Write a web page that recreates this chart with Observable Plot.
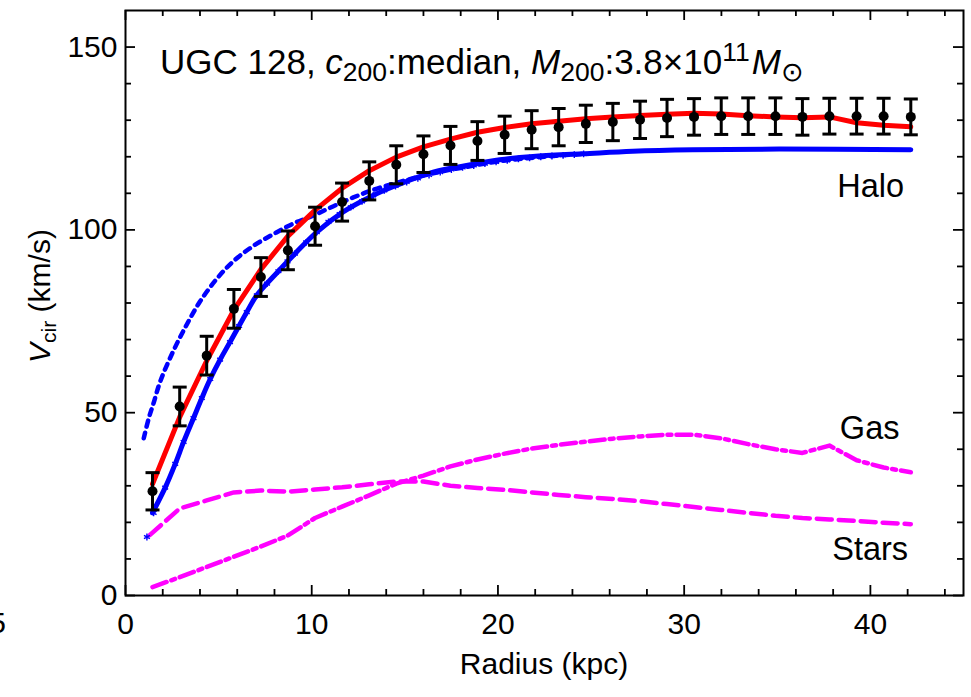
<!DOCTYPE html>
<html>
<head>
<meta charset="utf-8">
<script src="https://cdn.jsdelivr.net/npm/d3@7"></script>
<script src="https://cdn.jsdelivr.net/npm/@observablehq/plot@0.6"></script>
<style>
  html, body { margin: 0; padding: 0; background: #fff; }
  svg { display: block; }
</style>
</head>
<body>
<div id="chart"></div>
<script>
// ---- Data ----
const radius = [1.45, 2.91, 4.36, 5.82, 7.27, 8.72, 10.18, 11.63, 13.09, 14.54, 16.0, 17.45, 18.9, 20.36, 21.81, 23.26, 24.72, 26.17, 27.63, 29.08, 30.53, 31.99, 33.44, 34.9, 36.35, 37.8, 39.26, 40.71, 42.17];
const vObs = [28.5, 51.7, 65.6, 78.4, 87.1, 94.4, 101.0, 107.6, 113.4, 117.8, 120.7, 123.1, 124.3, 126.0, 127.4, 128.1, 129.0, 129.5, 130.1, 130.6, 130.9, 131.1, 131.1, 131.1, 130.9, 131.1, 131.1, 131.1, 130.9];
const vErr = [5.1, 5.3, 5.3, 5.3, 5.3, 5.3, 5.2, 5.2, 5.2, 5.2, 5.0, 5.2, 5.3, 5.1, 5.2, 5.1, 5.1, 5.1, 5.1, 5.1, 5.0, 5.0, 5.0, 5.0, 5.0, 4.9, 4.9, 4.9, 4.9];
const vTotal = [30.5, 48.8, 64.2, 78.1, 89.2, 98.3, 105.4, 111.4, 116.2, 119.9, 122.7, 124.8, 126.7, 128.0, 129.0, 129.7, 130.4, 130.9, 131.3, 131.6, 131.9, 131.7, 131.2, 130.9, 130.7, 130.9, 129.3, 128.6, 128.2];
const vGas = [2.3, 5.0, 7.8, 10.6, 13.4, 16.4, 21.2, 24.3, 27.4, 30.6, 32.8, 35.3, 37.2, 38.8, 40.2, 41.2, 42.1, 42.9, 43.5, 44.0, 44.0, 43.0, 41.4, 40.0, 39.0, 41.0, 37.0, 35.0, 33.7];
const starsR = [1.3, 2.91, 4.36, 5.82, 7.27, 8.72, 10.18, 11.63, 13.09, 14.54, 16.0, 17.45, 18.9, 20.36, 21.81, 23.26, 24.72, 26.17, 27.63, 29.08, 30.53, 31.99, 33.44, 34.9, 36.35, 37.8, 39.26, 40.71, 42.17];
const vStars = [16.5, 23.8, 26.0, 28.2, 28.7, 28.4, 29.0, 29.6, 30.4, 31.2, 31.2, 30.0, 29.4, 28.9, 28.2, 27.5, 26.9, 26.4, 25.8, 25.0, 24.2, 23.4, 22.6, 21.8, 21.2, 20.8, 20.4, 19.9, 19.5];
// Halo fit (solid blue)
const haloR = [1.45, 2.13, 2.67, 3.12, 3.65, 4.1, 4.55, 5.08, 5.61, 6.51, 7.05, 8.21, 9.1, 10.27, 11.69, 13.13, 14.56, 16.52, 18.31, 20.1, 21.88, 24.56, 27.24, 30.46, 35.1, 42.17];
const vHalo = [22.6, 29.5, 36.0, 42.0, 48.5, 54.0, 59.2, 64.5, 69.3, 77.5, 82.1, 88.7, 93.5, 99.4, 104.9, 109.0, 112.2, 115.8, 117.6, 119.2, 120.1, 120.8, 121.5, 121.9, 122.1, 121.9];
// Halo (dashed blue)
const dashR = [0.98, 1.25, 1.5, 1.87, 2.58, 3.3, 4.0, 4.9, 5.79, 6.86, 7.93, 9.0, 10.07, 11.14, 12.2, 13.28, 14.5, 15.8, 17.0, 18.5, 20.0, 22.0, 24.6];
const vDash = [43.0, 48.5, 52.5, 58.6, 67.0, 74.2, 80.4, 86.6, 91.4, 95.6, 98.8, 101.7, 103.9, 106.4, 108.8, 110.9, 112.8, 114.6, 116.0, 117.4, 118.7, 119.8, 120.8];
// Halo (blue asterisks)
const astR = [1.15, 1.51, 2.13, 2.67, 3.12, 3.65, 4.1, 4.55, 5.08, 5.61, 6.1, 6.51, 7.05, 7.6, 8.21, 8.7, 9.1, 9.7, 10.27, 10.9, 11.5, 12.1, 12.7, 13.3, 13.9, 14.5, 15.1, 15.7, 16.3, 16.9, 17.5, 18.1, 18.7, 19.3, 19.9, 20.5, 21.1, 21.7, 22.3, 22.9, 23.5, 24.1, 24.6];
const vAst = [16.0, 22.6, 29.5, 36.0, 42.0, 48.5, 54.0, 59.2, 64.5, 69.3, 73.7, 77.5, 82.1, 85.3, 88.7, 91.4, 93.5, 96.6, 99.4, 102.2, 104.3, 106.2, 107.8, 109.4, 110.8, 112.0, 113.1, 114.1, 115.0, 115.8, 116.5, 117.1, 117.6, 118.1, 118.6, 119.0, 119.4, 119.7, 120.0, 120.2, 120.4, 120.6, 120.8];

const xMajor = [0, 10, 20, 30, 40];
const xMinor = [2, 4, 6, 8, 12, 14, 16, 18, 22, 24, 26, 28, 32, 34, 36, 38, 42, 44];
const yMajor = [0, 50, 100, 150];
const yMinor = [10, 20, 30, 40, 60, 70, 80, 90, 110, 120, 130, 140];

const curveLabels = ["Halo", "Gas", "Stars"];
const labelR = [38.22, 38.36, 37.95];
const labelV = [111.9, 45.7, 12.6];

// ---- Tables built from the arrays ----
const obs = radius.map((r, i) => ({r, v: vObs[i], lo: vObs[i] - vErr[i], hi: vObs[i] + vErr[i]}));
const total = radius.map((r, i) => ({r, v: vTotal[i]}));
const gas = radius.map((r, i) => ({r, v: vGas[i]}));
const stars = starsR.map((r, i) => ({r, v: vStars[i]}));
const halo = haloR.map((r, i) => ({r, v: vHalo[i]}));
const haloDash = dashR.map((r, i) => ({r, v: vDash[i]}));
const ast = astR.map((r, i) => ({r, v: vAst[i]}));
const labels = curveLabels.map((t, i) => ({t, r: labelR[i], v: labelV[i]}));

const FH = 585, FW = 838; // frame size in px
const capSymbol = {draw(ctx) { ctx.moveTo(-7, 0); ctx.lineTo(7, 0); }};
const font = "'Liberation Sans', Arial, Helvetica, sans-serif";

const chart = Plot.plot({
  width: 971,
  height: 697,
  marginLeft: 125,
  marginRight: 8,
  marginTop: 10,
  marginBottom: 102,
  x: {domain: [0, 45]},
  y: {domain: [0, 160]},
  style: {fontFamily: font, fontSize: "30px", color: "black", background: "white", overflow: "visible"},
  marks: [
    // curves
    Plot.line(stars, {x: "r", y: "v", stroke: "#ff00ff", strokeWidth: 4.5, strokeDasharray: "15,7"}),
    Plot.line(gas, {x: "r", y: "v", stroke: "#ff00ff", strokeWidth: 4.5, strokeDasharray: "15,5,4,5"}),
    Plot.line(haloDash, {x: "r", y: "v", stroke: "#0000ff", strokeWidth: 4.5, strokeDasharray: "6,6", curve: "catmull-rom"}),
    Plot.dot(ast, {x: "r", y: "v", symbol: "asterisk", r: 3.2, stroke: "#0000ff", strokeWidth: 1.4}),
    Plot.line(halo, {x: "r", y: "v", stroke: "#0000ff", strokeWidth: 5, curve: "catmull-rom"}),
    Plot.line(total, {x: "r", y: "v", stroke: "#ff0000", strokeWidth: 5}),
    // error bars + points
    Plot.ruleX(obs, {x: "r", y1: "lo", y2: "hi", stroke: "black", strokeWidth: 3}),
    Plot.dot(obs, {x: "r", y: "hi", symbol: capSymbol, r: 6, fill: "none", stroke: "black", strokeWidth: 3}),
    Plot.dot(obs, {x: "r", y: "lo", symbol: capSymbol, r: 6, fill: "none", stroke: "black", strokeWidth: 3}),
    Plot.dot(obs, {x: "r", y: "v", r: 5, fill: "black"}),
    // curve labels
    Plot.text(labels, {x: "r", y: "v", text: "t", textAnchor: "start", fontSize: 32.5, fill: "black"}),
    // frame & inward ticks
    Plot.frame({stroke: "black", strokeWidth: 2}),
    Plot.tickX(xMajor, {x: d => d, insetTop: FH - 10, stroke: "black", strokeWidth: 1.8}),
    Plot.tickX(xMinor, {x: d => d, insetTop: FH - 6, stroke: "black", strokeWidth: 1.8}),
    Plot.tickX(xMajor, {x: d => d, insetBottom: FH - 10, stroke: "black", strokeWidth: 1.8}),
    Plot.tickX(xMinor, {x: d => d, insetBottom: FH - 6, stroke: "black", strokeWidth: 1.8}),
    Plot.tickY(yMajor, {y: d => d, insetRight: FW - 10, stroke: "black", strokeWidth: 1.8}),
    Plot.tickY(yMinor, {y: d => d, insetRight: FW - 6, stroke: "black", strokeWidth: 1.8}),
    Plot.tickY(yMajor, {y: d => d, insetLeft: FW - 10, stroke: "black", strokeWidth: 1.8}),
    Plot.tickY(yMinor, {y: d => d, insetLeft: FW - 6, stroke: "black", strokeWidth: 1.8}),
    // tick labels
    Plot.axisX(xMajor, {anchor: "bottom", tickSize: 0, tickPadding: 17, fontSize: 30, label: null}),
    Plot.axisY(yMajor, {anchor: "left", tickSize: 0, tickPadding: 8, fontSize: 30, label: null})
  ]
});

document.getElementById("chart").appendChild(chart);

// ---- Rich text (title, axis titles) ----
const svg = d3.select(chart);
const sub = 26.5;

const title = svg.append("text")
  .attr("x", 160).attr("y", 74).attr("text-anchor", "start")
  .attr("font-family", font).attr("font-size", 35).attr("fill", "black");
title.append("tspan").text("UGC 128, ");
title.append("tspan").attr("font-style", "italic").text("c");
title.append("tspan").attr("font-size", sub).attr("dy", 7).text("200");
title.append("tspan").attr("dy", -7).text(":median, ");
title.append("tspan").attr("font-style", "italic").text("M");
title.append("tspan").attr("font-size", sub).attr("dy", 7).text("200");
title.append("tspan").attr("dy", -7).text(":3.8×10");
title.append("tspan").attr("font-size", sub).attr("dy", -13).text("11");
title.append("tspan").attr("dy", 13).attr("dx", 2).attr("font-style", "italic").text("M");
title.append("tspan").attr("font-size", sub).attr("dy", 7).text("⊙");

svg.append("text")
  .attr("x", 544).attr("y", 674).attr("text-anchor", "middle")
  .attr("font-family", font).attr("font-size", 30).attr("fill", "black")
  .text("Radius (kpc)");

const yt = svg.append("text")
  .attr("transform", "translate(50,296) rotate(-90)")
  .attr("text-anchor", "middle")
  .attr("font-family", font).attr("font-size", 30).attr("fill", "black");
yt.append("tspan").attr("font-style", "italic").text("V");
yt.append("tspan").attr("font-size", 21).attr("dy", 6).text("cir");
yt.append("tspan").attr("dy", -6).text(" (km/s)");

// clipped tick label from a neighbouring panel
svg.append("text")
  .attr("x", 6).attr("y", 633).attr("text-anchor", "end")
  .attr("font-family", font).attr("font-size", 30).attr("fill", "black")
  .text("5");
</script>
</body>
</html>
